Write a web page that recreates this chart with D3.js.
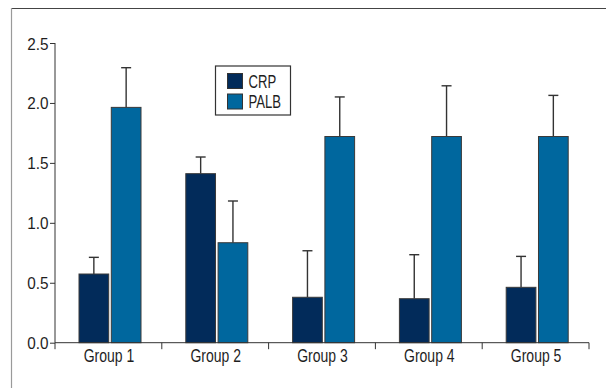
<!DOCTYPE html>
<html>
<head>
<meta charset="utf-8">
<script src="https://cdn.jsdelivr.net/npm/d3@7"></script>
<style>
  html, body { margin: 0; padding: 0; background: #fff; }
  svg { display: block; }
  text { font-family: "Liberation Sans", Arial, sans-serif; fill: #1e1e1e; }
</style>
</head>
<body>
<svg id="chart" width="606" height="388"></svg>
<script>
const groups = ["Group 1", "Group 2", "Group 3", "Group 4", "Group 5"];
const series = ["CRP", "PALB"];
const crpMean = [0.573, 1.41, 0.379, 0.367, 0.462];
const crpUpper = [0.712, 1.549, 0.767, 0.734, 0.72];
const palbMean = [1.963, 0.834, 1.72, 1.72, 1.72];
const palbUpper = [2.294, 1.182, 2.05, 2.143, 2.063];
const yTicks = [0, 0.5, 1.0, 1.5, 2.0, 2.5];
const colors = ["#022b5a", "#00679e"];

const data = groups.map((g, i) => ({
  group: g,
  values: [
    { key: "CRP", mean: crpMean[i], upper: crpUpper[i] },
    { key: "PALB", mean: palbMean[i], upper: palbUpper[i] }
  ]
}));

const svg = d3.select("#chart");

// frame
svg.append("line").attr("x1", 11).attr("x2", 606).attr("y1", 8.5).attr("y2", 8.5)
  .attr("stroke", "#444").attr("stroke-width", 1.2);
svg.append("line").attr("x1", 11.5).attr("x2", 11.5).attr("y1", 8).attr("y2", 388)
  .attr("stroke", "#9a9a9a").attr("stroke-width", 1.2);

const mLeft = 55, mRight = 589, mTop = 43, mBottom = 342.7;
const x0 = d3.scaleBand().domain(groups).range([mLeft, mRight]).padding(0);
const x1 = d3.scaleBand().domain(series).range([24, 86]).paddingInner(0.08).paddingOuter(0);
const y = d3.scaleLinear().domain([0, 2.5]).range([mBottom, mTop]);
const color = d3.scaleOrdinal().domain(series).range(colors);

// bars
const g = svg.append("g");
const grp = g.selectAll("g.grp").data(data).join("g")
  .attr("class", "grp")
  .attr("transform", d => `translate(${x0(d.group)},0)`);

// error bars (behind bars)
grp.selectAll("line.err").data(d => d.values).join("line")
  .attr("class", "err")
  .attr("x1", d => x1(d.key) + x1.bandwidth() / 2)
  .attr("x2", d => x1(d.key) + x1.bandwidth() / 2)
  .attr("y1", d => y(d.mean))
  .attr("y2", d => y(d.upper))
  .attr("stroke", "#333").attr("stroke-width", 1.4);
grp.selectAll("line.cap").data(d => d.values).join("line")
  .attr("class", "cap")
  .attr("x1", d => x1(d.key) + x1.bandwidth() / 2 - 5)
  .attr("x2", d => x1(d.key) + x1.bandwidth() / 2 + 5)
  .attr("y1", d => y(d.upper))
  .attr("y2", d => y(d.upper))
  .attr("stroke", "#333").attr("stroke-width", 1.4);

grp.selectAll("rect").data(d => d.values).join("rect")
  .attr("x", d => x1(d.key))
  .attr("width", x1.bandwidth())
  .attr("y", d => y(d.mean))
  .attr("height", d => y(0) - y(d.mean))
  .attr("fill", d => color(d.key))
  .attr("stroke", "#3a3a3a").attr("stroke-width", 1);

// y axis
const yAxis = d3.axisLeft(y).tickValues(yTicks).tickFormat(d3.format(".1f")).tickSize(5).tickPadding(2);
const ya = svg.append("g").attr("transform", `translate(${mLeft},0)`).call(yAxis);
ya.select(".domain").attr("d", `M0,${mTop}V${mBottom}`).attr("stroke", "#333");
ya.selectAll(".tick line").attr("stroke", "#333");
ya.selectAll(".tick text")
  .attr("font-size", 17)
  .attr("font-family", null)
  .attr("x", 0).attr("dy", null)
  .attr("y", 6)
  .attr("transform", "translate(-6.5,0) scale(0.9,1)")
  .style("font-family", "'Liberation Sans', Arial, sans-serif").attr("fill", "#1e1e1e");

// x axis
const xa = svg.append("g").attr("transform", `translate(0,${mBottom})`);
xa.append("line").attr("x1", mLeft).attr("x2", mRight).attr("y1", 0).attr("y2", 0)
  .attr("stroke", "#333").attr("stroke-width", 1);
const bounds = groups.map(d => x0(d)).concat([mRight]);
xa.selectAll("line.tk").data(bounds).join("line")
  .attr("class", "tk")
  .attr("x1", d => d).attr("x2", d => d)
  .attr("y1", 0).attr("y2", 6.5)
  .attr("stroke", "#333").attr("stroke-width", 1);
xa.selectAll("text").data(groups).join("text")
  .attr("transform", d => `translate(${x0(d) + x0.bandwidth() / 2 + 0.5},19) scale(0.8,1)`)
  .attr("text-anchor", "middle")
  .attr("font-size", 17.5)
  .text(d => d);

// legend
const lg = svg.append("g");
lg.append("rect").attr("x", 215.5).attr("y", 66).attr("width", 75).attr("height", 49)
  .attr("fill", "#fff").attr("stroke", "#333").attr("stroke-width", 1.2);
const li = lg.selectAll("g.li").data(series).join("g").attr("class", "li")
  .attr("transform", (d, i) => `translate(227.5,${73.5 + i * 20.5})`);
li.append("rect").attr("width", 15).attr("height", 15)
  .attr("fill", d => color(d)).attr("stroke", "#333").attr("stroke-width", 1);
li.append("text")
  .attr("transform", "translate(21,14) scale(0.75,1)")
  .attr("font-size", 17.5).text(d => d);
</script>
</body>
</html>
